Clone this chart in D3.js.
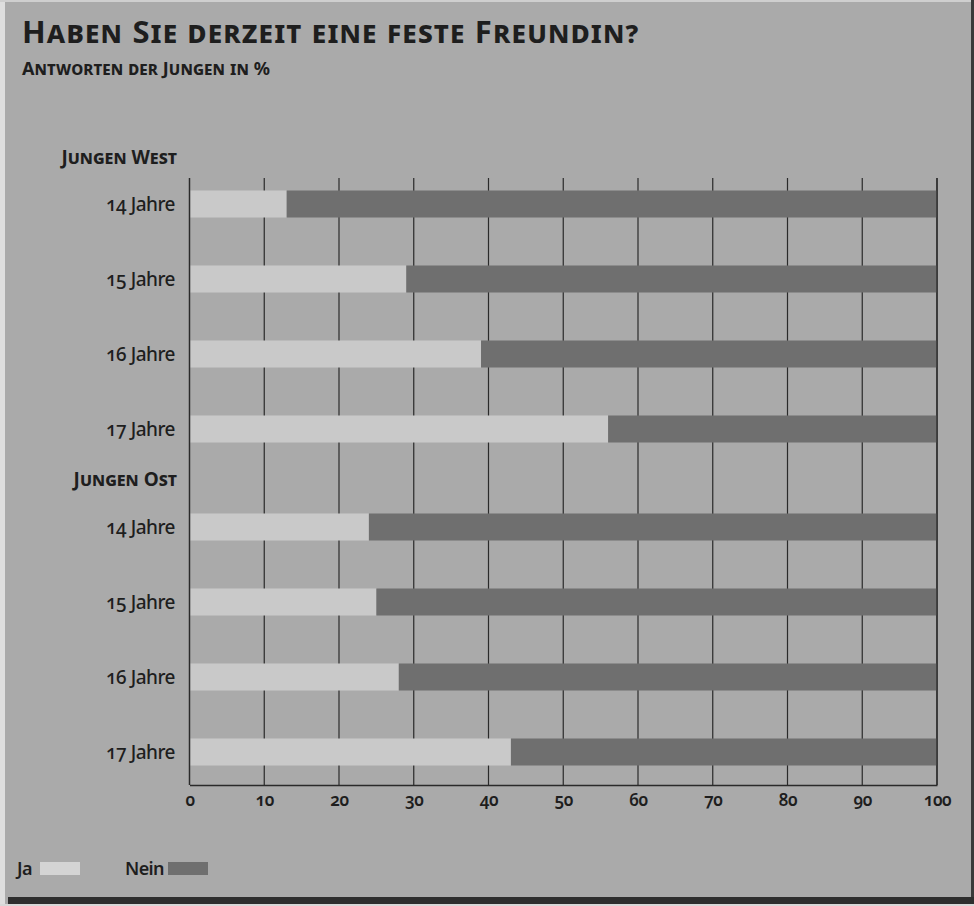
<!DOCTYPE html>
<html><head><meta charset="utf-8">
<script src="https://cdn.jsdelivr.net/npm/d3@7/dist/d3.min.js"></script>
<style>
html,body{margin:0;padding:0;background:#aaaaaa;}
svg{display:block;}
text{font-family:"Noto Sans","Open Sans",sans-serif;fill:#1e1e1e;}
.num{font-feature-settings:"onum" 1;}
.sc{font-variant:small-caps;font-weight:bold;}
</style></head>
<body>
<script>
const title = "Haben Sie derzeit eine feste Freundin?";
const subtitle = "Antworten der Jungen in %";
const groups = ["Jungen West", "Jungen Ost"];
const ages = ["14 Jahre", "15 Jahre", "16 Jahre", "17 Jahre"];
const jaWest = [13, 29, 39, 56];
const jaOst = [24, 25, 28, 43];
const xTicks = [0, 10, 20, 30, 40, 50, 60, 70, 80, 90, 100];
const legendLabels = ["Ja", "Nein"];

const W = 974, H = 906;
const cBg = "#aaaaaa", cJa = "#c9c9c9", cNein = "#6f6f6f", cLine = "#2a2a2a";

const svg = d3.select("body").append("svg").attr("width", W).attr("height", H);
svg.append("rect").attr("width", W).attr("height", H).attr("fill", cBg);
// scan borders
svg.append("rect").attr("x", 0).attr("y", 0).attr("width", 5).attr("height", H).attr("fill", "#dedede");
svg.append("rect").attr("x", 0).attr("y", 0).attr("width", W).attr("height", 2).attr("fill", "#cfcfcf");
svg.append("rect").attr("x", 971).attr("y", 0).attr("width", 3).attr("height", H).attr("fill", "#3a3a3a");
svg.append("rect").attr("x", 8).attr("y", 897).attr("width", W - 8).attr("height", 7).attr("fill", "#2e2e2e");
svg.append("rect").attr("x", 0).attr("y", 904).attr("width", W).attr("height", 2).attr("fill", "#d8d8d8");

// titles
svg.append("text").attr("class", "sc").attr("x", 22).attr("y", 43)
  .style("font-size", "31px").style("letter-spacing", "1.15px").text(title);
svg.append("text").attr("class", "sc").attr("x", 22).attr("y", 75)
  .style("font-size", "18px").style("letter-spacing", "0.1px").text(subtitle);

const x = d3.scaleLinear().domain([0, 100]).range([189.5, 937]);
const plotTop = 178, plotBottom = 785;

// gridlines
svg.append("g").selectAll("line").data(xTicks).join("line")
  .attr("x1", d => x(d)).attr("x2", d => x(d))
  .attr("y1", plotTop).attr("y2", plotBottom)
  .attr("stroke", cLine).attr("stroke-width", 1.2);

// bottom axis
const axis = d3.axisBottom(x).tickValues(xTicks).tickSize(0).tickPadding(9);
const ag = svg.append("g").attr("transform", `translate(0,${plotBottom})`).call(axis);
ag.select(".domain").attr("stroke", cLine).attr("stroke-width", 1.5);
ag.selectAll("text").attr("class", "num").style("font-size", "17px").style("font-weight", "600")
  .style("fill", "#1e1e1e").style("letter-spacing", "-0.5px")
  .style("font-family", "'Noto Sans','Open Sans',sans-serif");

const groupRanges = [[166.5, 466.5], [489.5, 789.5]];
const groupData = [jaWest, jaOst];
const headerY = [164, 486];

groups.forEach((g, gi) => {
  const y = d3.scaleBand().domain(ages).range(groupRanges[gi]).paddingInner(0.64).paddingOuter(0.32);
  const rows = ages.map((a, i) => ({age: a, ja: groupData[gi][i]}));
  const gg = svg.append("g");
  gg.selectAll("rect.ja").data(rows).join("rect").attr("class", "ja")
    .attr("x", x(0) + 1).attr("y", d => y(d.age))
    .attr("width", d => x(d.ja) - x(0) - 1).attr("height", y.bandwidth()).attr("fill", cJa);
  gg.selectAll("rect.nein").data(rows).join("rect").attr("class", "nein")
    .attr("x", d => x(d.ja)).attr("y", d => y(d.age))
    .attr("width", d => x(100) - x(d.ja)).attr("height", y.bandwidth()).attr("fill", cNein);
  gg.selectAll("text.lab").data(rows).join("text").attr("class", "lab num")
    .attr("x", 175).attr("y", d => y(d.age) + y.bandwidth() / 2).attr("dy", "0.36em")
    .attr("text-anchor", "end").style("font-size", "19px").style("font-weight", "500")
    .style("letter-spacing", "-0.5px")
    .text(d => d.age);
  svg.append("text").attr("class", "sc").attr("x", 177).attr("y", headerY[gi])
    .attr("text-anchor", "end").style("font-size", "19px").style("letter-spacing", "0px").text(g);
});

// redraw left and right plot lines on top
svg.append("line").attr("x1", x(0)).attr("x2", x(0)).attr("y1", plotTop).attr("y2", plotBottom)
  .attr("stroke", cLine).attr("stroke-width", 1.3);
svg.append("line").attr("x1", x(100)).attr("x2", x(100)).attr("y1", plotTop).attr("y2", plotBottom)
  .attr("stroke", cLine).attr("stroke-width", 1.3);

// legend
const legend = [
  {label: legendLabels[0], tx: 17, sx: 40, color: "#d4d4d4"},
  {label: legendLabels[1], tx: 125, sx: 168, color: cNein}
];
const lg = svg.append("g");
lg.selectAll("text").data(legend).join("text")
  .attr("x", d => d.tx).attr("y", 875).style("font-size", "18px").style("font-weight", "600")
  .style("letter-spacing", "-0.6px")
  .text(d => d.label);
lg.selectAll("rect").data(legend).join("rect")
  .attr("x", d => d.sx).attr("y", 862).attr("width", 40).attr("height", 13).attr("fill", d => d.color);
</script>
</body></html>
